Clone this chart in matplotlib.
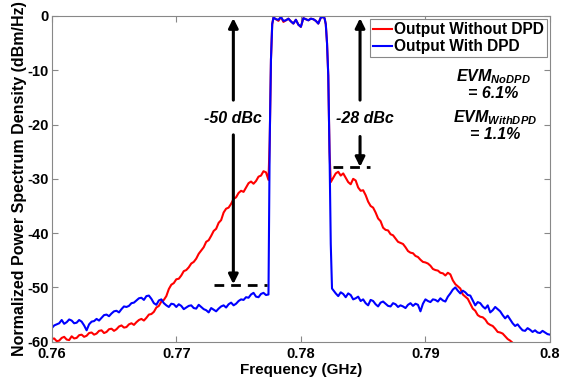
import numpy as np
import matplotlib
matplotlib.use("Agg")
import matplotlib.pyplot as plt

plt.rcParams['font.family'] = ['Liberation Sans', 'DejaVu Sans']
plt.rcParams['font.weight'] = 'bold'
plt.rcParams['mathtext.fontset'] = 'custom'
plt.rcParams['mathtext.it'] = 'Liberation Sans:italic:bold'
plt.rcParams['mathtext.rm'] = 'Liberation Sans:bold'
plt.rcParams['mathtext.bf'] = 'Liberation Sans:italic:bold'

# ---- measured spectra (GHz, normalised dBm/Hz) ----
# lower adjacent band, 0.76 .. 0.7772 GHz in 0.2 MHz steps
red_low = [-59.5, -59.4, -59.9, -59.8, -59.3, -59.1, -59.6, -59.7, -59.0, -59.4,
           -59.3, -58.8, -58.7, -59.1, -58.9, -58.4, -58.3, -58.7, -58.5, -58.0,
           -57.9, -58.4, -58.2, -57.7, -57.6, -58.0, -57.7, -57.2, -57.0, -57.4,
           -57.3, -56.8, -56.6, -56.9, -56.4, -56.0, -55.8, -56.1, -55.6, -55.0,
           -54.9, -54.5, -53.7, -53.4, -52.6, -52.3, -51.6, -50.3, -49.5, -49.2,
           -48.5, -48.4, -47.8, -47.0, -46.8, -46.3, -45.6, -45.3, -44.7, -43.8,
           -43.2, -42.6, -41.6, -41.3, -40.5, -39.6, -39.2, -38.1, -37.6, -36.2,
           -35.5, -35.3, -34.6, -33.7, -33.4, -32.6, -32.2, -32.4, -31.6, -30.8,
           -30.5, -30.9, -30.4, -29.6, -29.4, -28.6, -28.8]
blue_low = [-57.5, -57.0, -56.8, -56.6, -56.0, -56.7, -56.4, -55.9, -56.1, -56.6,
            -56.5, -56.0, -56.3, -57.0, -57.9, -56.8, -56.3, -56.2, -55.8, -56.1,
            -55.6, -55.1, -55.0, -55.3, -54.8, -54.4, -54.3, -54.6, -54.0, -53.5,
            -53.6, -53.4, -52.9, -52.8, -52.4, -52.0, -51.9, -52.3, -51.6, -51.5,
            -52.1, -52.9, -53.2, -52.4, -52.2, -52.9, -53.3, -53.6, -53.0, -53.1,
            -53.6, -53.1, -53.4, -54.0, -53.7, -53.4, -53.3, -53.8, -53.9, -53.2,
            -53.6, -54.0, -54.2, -54.6, -53.8, -54.1, -54.4, -53.9, -53.5, -53.3,
            -53.7, -53.1, -52.8, -53.3, -53.0, -52.5, -52.2, -52.3, -51.8, -51.9,
            -51.3, -51.0, -51.7, -51.8, -51.2, -51.0, -51.4]

# main channel and its edges
freq_band = [0.7774, 0.7775, 0.7776, 0.7777, 0.7778, 0.7780, 0.7782, 0.7784,
             0.7786, 0.7788, 0.7790, 0.7792, 0.7794, 0.7796, 0.7798, 0.7800,
             0.7802, 0.7804, 0.7806, 0.7808, 0.7810, 0.7812, 0.7814, 0.7816,
             0.7818, 0.7819, 0.7820, 0.7821, 0.7822, 0.7823, 0.7824, 0.7825]
red_band = [-30.2, -23.0, -8.0, -1.5, -0.3, -0.6, -0.9, -0.2, -1.1, -0.8,
            -0.5, -1.0, -1.4, -0.7, -1.6, -2.0, -0.4, -0.6, -0.8, -0.5,
            -0.6, -0.9, -1.4, -0.3, -0.2, -0.4, -1.5, -5.0, -11.0, -25.0,
            -30.6, -30.2]
blue_band = [-51.3, -23.0, -8.0, -1.5, -0.3, -0.6, -0.7, -0.2, -0.9, -0.8,
             -0.5, -1.0, -1.4, -0.7, -1.6, -2.0, -0.4, -0.6, -0.8, -0.5,
             -0.6, -0.9, -1.4, -0.3, -0.2, -0.4, -1.5, -5.0, -11.0, -25.0,
             -42.0, -50.2]

# upper adjacent band, 0.7828 .. 0.8 GHz in 0.2 MHz steps
red_high = [-29.0, -28.7, -29.4, -29.0, -29.8, -30.6, -31.0, -30.0, -30.3, -31.6,
            -32.2, -32.1, -33.0, -34.2, -35.0, -35.3, -36.2, -37.3, -37.8, -39.0,
            -39.4, -39.5, -40.2, -40.4, -41.0, -41.6, -41.8, -42.0, -42.6, -43.3,
            -43.6, -43.7, -44.2, -44.4, -44.9, -45.3, -45.4, -45.6, -46.0, -46.6,
            -46.8, -46.9, -47.3, -47.4, -47.8, -47.3, -47.6, -48.7, -49.4, -49.8,
            -50.2, -51.3, -51.7, -52.1, -53.0, -53.9, -54.3, -55.1, -55.4, -55.5,
            -55.9, -56.6, -56.9, -57.1, -57.6, -58.2, -58.3, -58.5, -59.0, -59.5,
            -59.8, -60.2, -60.8, -61.2, -61.5, -61.8, -62.0, -62.3, -62.6, -62.8,
            -63.0, -63.3, -63.5, -63.8, -64.0, -64.1, -64.3]
blue_high = [-51.1, -51.6, -50.9, -51.2, -51.8, -51.1, -51.4, -52.2, -52.0, -51.7,
             -52.5, -52.2, -52.9, -53.3, -52.3, -52.5, -53.1, -53.5, -52.8, -52.6,
             -53.0, -53.4, -53.5, -52.9, -53.1, -53.6, -53.3, -53.5, -53.8, -53.2,
             -52.9, -53.4, -53.0, -53.2, -54.4, -53.0, -52.2, -52.5, -52.7, -52.2,
             -52.3, -52.6, -52.0, -52.4, -52.6, -51.7, -51.1, -50.4, -50.0, -50.6,
             -51.1, -50.6, -50.9, -51.4, -51.5, -52.4, -53.3, -52.7, -52.9, -53.5,
             -53.9, -53.3, -54.6, -54.2, -53.6, -54.0, -54.4, -55.1, -55.7, -55.2,
             -55.9, -56.6, -57.1, -56.8, -57.4, -57.9, -58.0, -57.5, -57.8, -58.2,
             -57.9, -58.3, -58.4, -58.0, -58.3, -58.6, -58.7]

xticks = [0.76, 0.77, 0.78, 0.79, 0.8]
xtick_labels = ['0.76', '0.77', '0.78', '0.79', '0.8']
yticks = [0, -10, -20, -30, -40, -50, -60]

freq_low = np.linspace(0.76, 0.7772, len(red_low))
freq_high = np.linspace(0.7828, 0.8, len(red_high))

freq = np.concatenate([freq_low, freq_band, freq_high])
psd_no_dpd = np.concatenate([red_low, red_band, red_high])
psd_dpd = np.concatenate([blue_low, blue_band, blue_high])

fig = plt.figure(figsize=(5.61, 3.81), dpi=100)
ax = fig.add_axes([0.0922, 0.1031, 0.8882, 0.855])

ax.plot(freq, psd_no_dpd, color='#ff0000', lw=1.5, label='Output Without DPD')
ax.plot(freq, psd_dpd, color='#0000ff', lw=1.5, label='Output With DPD')

ax.set_xlim(0.76, 0.8)
ax.set_ylim(-60, 0)
ax.set_xticks(xticks)
ax.set_xticklabels(xtick_labels, fontweight='bold')
ax.set_yticks(yticks)
ax.set_yticklabels([str(v) for v in yticks], fontweight='bold')
ax.tick_params(direction='in', length=4, width=0.8, color='#888888',
               top=True, right=True, labelsize=10.5, pad=2)
ax.tick_params(axis='x', pad=3.5)
for sp in ax.spines.values():
    sp.set_color('#888888')
    sp.set_linewidth(0.8)

ax.set_xlabel('Frequency (GHz)', fontsize=11, fontweight='bold', labelpad=2)
ax.set_ylabel('Normalized Power Spectrum Density (dBm/Hz)', fontsize=11.5,
              fontweight='bold', labelpad=0)

# ACPR annotations
arrow_kw = dict(arrowstyle='-|>', lw=2.2, color='k', mutation_scale=14,
                shrinkA=0, shrinkB=0)
ax.annotate('', xy=(0.77458, -0.4), xytext=(0.77458, -15.5), arrowprops=arrow_kw)
ax.annotate('', xy=(0.77458, -49.4), xytext=(0.77458, -21.9), arrowprops=arrow_kw)
ax.text(0.77458, -18.8, '-50 dBc', ha='center', va='center', fontsize=11.5,
        fontweight='bold', style='italic')
ax.plot([0.7730, 0.7773], [-49.5, -49.5], color='k', lw=2, ls=(0, (3.5, 2.5)))

ax.annotate('', xy=(0.78475, -0.4), xytext=(0.78475, -15.5), arrowprops=arrow_kw)
ax.annotate('', xy=(0.78475, -27.8), xytext=(0.78475, -22.2), arrowprops=arrow_kw)
ax.text(0.78515, -18.8, '-28 dBc', ha='center', va='center', fontsize=11.5,
        fontweight='bold', style='italic')
ax.plot([0.78258, 0.78555], [-27.8, -27.8], color='k', lw=2, ls=(0, (3.5, 2.5)))

# EVM results
ax.text(0.79543, -11.2, r'$EVM_{NoDPD}$', ha='center', va='center', fontsize=11.5)
ax.text(0.79543, -14.3, '= 6.1%', ha='center', va='center', fontsize=11.5,
        fontweight='bold', style='italic')
ax.text(0.79560, -18.8, r'$EVM_{WithDPD}$', ha='center', va='center', fontsize=11.5)
ax.text(0.79560, -21.9, '= 1.1%', ha='center', va='center', fontsize=11.5,
        fontweight='bold', style='italic')

leg = ax.legend(loc='upper right', handlelength=1.25,
                handletextpad=0.1, borderpad=0.2, labelspacing=0.12,
                borderaxespad=0.2, fancybox=False, framealpha=1,
                prop={'weight': 'bold', 'size': 11.2})
leg.get_frame().set_edgecolor('#888888')
leg.get_frame().set_linewidth(0.8)

fig.savefig('out.png', dpi=100)
